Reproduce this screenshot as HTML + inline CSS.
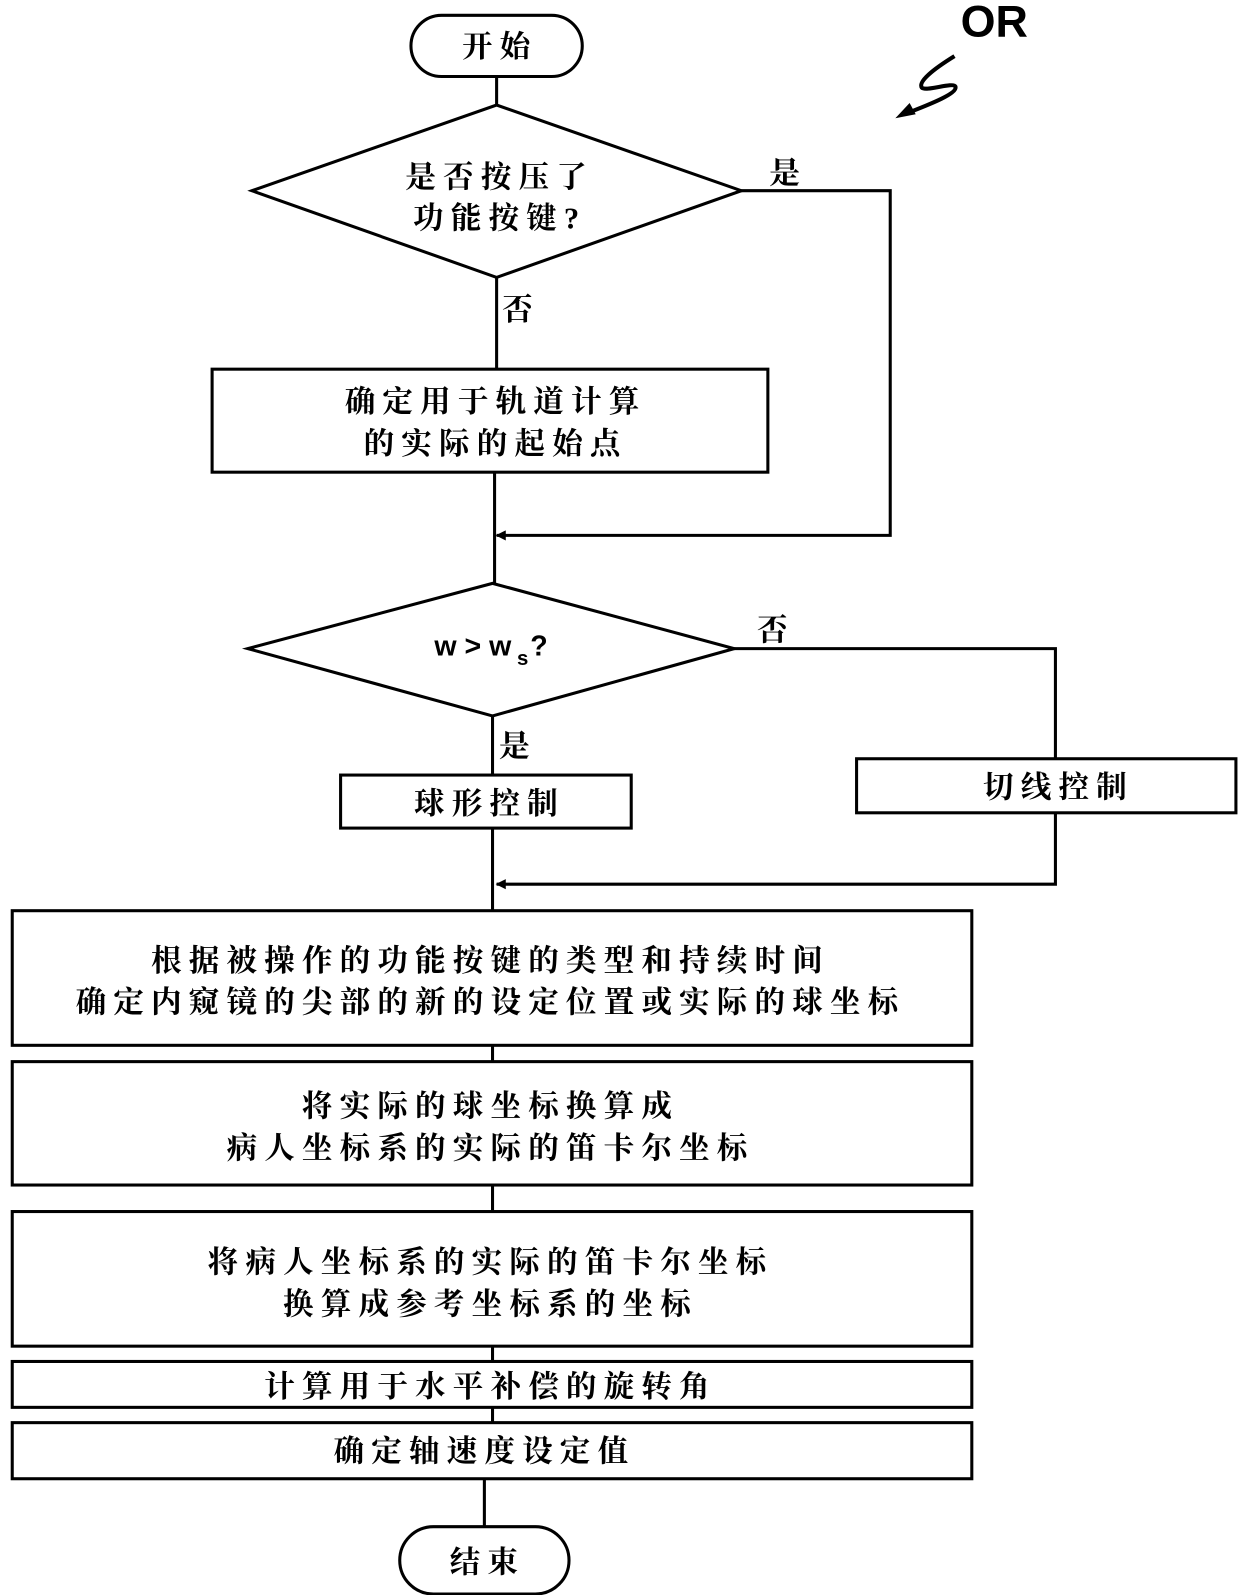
<!DOCTYPE html>
<html><head><meta charset="utf-8"><style>
html,body{margin:0;padding:0;background:#fff;}
svg{display:block;}
text{font-family:"Liberation Serif","Noto Serif CJK SC","Noto Sans CJK SC",serif;font-weight:bold;fill:#000;}
.t{letter-spacing:7px;}
</style></head><body>
<svg width="1240" height="1595" viewBox="0 0 1216 1564" preserveAspectRatio="none" xmlns="http://www.w3.org/2000/svg">
<defs><marker id="a" markerWidth="10" markerHeight="10" refX="9" refY="5" orient="auto" markerUnits="userSpaceOnUse"><path d="M0,0 L10,5 L0,10z" fill="#000"/></marker></defs>
<g fill="none" stroke="#000" stroke-width="3">
<rect x="403" y="15" width="168" height="60" rx="30"/>
<line x1="487" y1="75" x2="487" y2="103"/>
<polygon points="247,187 487,103 727,187 487,272"/>
<polyline points="727,187 873,187 873,525 487,525" marker-end="url(#a)"/>
<line x1="487" y1="272" x2="487" y2="362"/>
<rect x="208" y="362" width="545" height="101"/>
<line x1="485" y1="463" x2="485" y2="572"/>
<polygon points="243,636 483,572 720,636 483,702"/>
<polyline points="720,636 1035,636 1035,744"/>
<line x1="483" y1="702" x2="483" y2="760"/>
<rect x="334" y="760" width="285" height="52"/>
<rect x="840" y="744" width="372" height="53"/>
<polyline points="1035,797 1035,867 487,867" marker-end="url(#a)"/>
<line x1="483" y1="812" x2="483" y2="893"/>
<rect x="12" y="893" width="941" height="132"/>
<line x1="483" y1="1025" x2="483" y2="1041"/>
<rect x="12" y="1041" width="941" height="121"/>
<line x1="483" y1="1162" x2="483" y2="1188"/>
<rect x="12" y="1188" width="941" height="132"/>
<line x1="483" y1="1320" x2="483" y2="1335"/>
<rect x="12" y="1335" width="941" height="45"/>
<line x1="483" y1="1380" x2="483" y2="1395"/>
<rect x="12" y="1395" width="941" height="55"/>
<line x1="475" y1="1450" x2="475" y2="1497"/>
<rect x="392" y="1497" width="166" height="66" rx="33"/>
<path d="M936,55 C915,68 900,80 904,86 C908,90 935,80 937,85 C939,92 910,103 892,110" stroke-width="4"/>
</g>
<path d="M878,116 L892,101 L898,112z" fill="#000"/>
<text x="975" y="36" font-size="44" text-anchor="middle" style="font-family:'Liberation Sans',sans-serif">OR</text>
<g font-size="30" text-anchor="middle" class="t">
<text x="490" y="56">开始</text>
<text x="490" y="184">是否按压了</text>
<text x="490" y="224">功能按键?</text>
<text x="773" y="180">是</text>
<text x="511" y="314">否</text>
<text x="486" y="404">确定用于轨道计算</text>
<text x="486" y="445">的实际的起始点</text>
<text x="761" y="628">否</text>
<text x="508" y="742">是</text>
<text x="480" y="798">球形控制</text>
<text x="1038" y="782">切线控制</text>
<text x="481" y="952">根据被操作的功能按键的类型和持续时间</text>
<text x="481" y="993">确定内窥镜的尖部的新的设定位置或实际的球坐标</text>
<text x="481" y="1095">将实际的球坐标换算成</text>
<text x="481" y="1136">病人坐标系的实际的笛卡尔坐标</text>
<text x="481" y="1248">将病人坐标系的实际的笛卡尔坐标</text>
<text x="481" y="1289">换算成参考坐标系的坐标</text>
<text x="481" y="1370">计算用于水平补偿的旋转角</text>
<text x="475" y="1433">确定轴速度设定值</text>
<text x="478" y="1542">结束</text>
</g>
<text x="426" y="643" font-size="28" style="font-family:'Liberation Sans',sans-serif">w &gt; w</text>
<text x="507" y="652" font-size="20" style="font-family:'Liberation Sans',sans-serif">s</text>
<text x="520" y="643" font-size="28" style="font-family:'Liberation Sans',sans-serif">?</text>
</svg>
</body></html>
